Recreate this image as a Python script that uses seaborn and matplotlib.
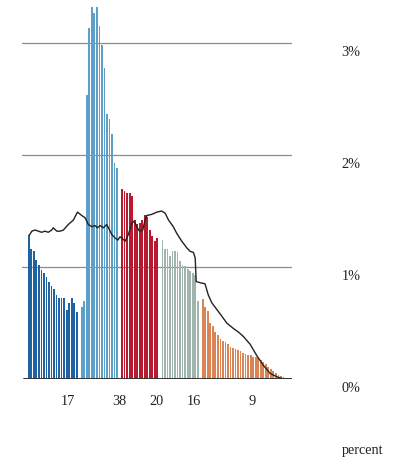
import matplotlib
matplotlib.use("Agg")
import numpy as np
import pandas as pd
import matplotlib.pyplot as plt
import matplotlib.transforms as mtransforms
import seaborn as sns

# share of population by single year of age (percent), split in age groups
group_names = ["0-19", "20-34", "35-49", "50-64", "65+"]
group_start = [0, 20, 35, 50, 65]
group_share = ["17", "38", "20", "16", "9"]
group_colors = ["#1f62a3", "#5c9fc9", "#b8192e", "#9eb4ac", "#da8455"]

pct_0_19 = [1.29, 1.16, 1.14, 1.06, 1.02, 0.97, 0.95, 0.91, 0.87, 0.83,
            0.80, 0.75, 0.72, 0.72, 0.72, 0.62, 0.68, 0.72, 0.68, 0.60]
pct_20_34 = [0.64, 0.70, 2.54, 3.13, 3.32, 3.27, 3.32, 3.15, 2.98, 2.78,
             2.37, 2.32, 2.19, 1.93, 1.88]
pct_35_49 = [1.70, 1.68, 1.66, 1.66, 1.63, 1.42, 1.38, 1.39, 1.42, 1.46,
             1.45, 1.33, 1.28, 1.23, 1.26]
pct_50_64 = [1.24, 1.16, 1.16, 1.10, 1.14, 1.14, 1.13, 1.05, 1.02, 1.01,
             0.98, 0.96, 0.95, 0.93, 0.70]
pct_65_up = [0.71, 0.64, 0.61, 0.50, 0.47, 0.42, 0.39, 0.36, 0.34, 0.33,
             0.31, 0.29, 0.28, 0.27, 0.26, 0.25, 0.23, 0.22, 0.21, 0.21,
             0.20, 0.20, 0.19, 0.17, 0.15, 0.13, 0.11, 0.09, 0.07, 0.05,
             0.04, 0.03, 0.02, 0.01, 0.01]

# whole population outline (position on the same slot axis, percent)
line_x = [0.1, 1.2, 2.5, 3.8, 5.1, 6.4, 7.7, 9.1, 9.7, 11.1, 12.4, 13.7,
          15.7, 17.7, 19.3, 21.0, 22.3, 23.6, 25.0, 26.3, 27.2, 28.3, 29.6,
          30.9, 31.6, 32.9, 34.2, 35.3, 36.2, 37.3, 38.2, 39.5, 40.8, 41.8,
          42.8, 43.9, 45.2, 46.1, 46.8, 48.8, 50.8, 52.7, 54.1, 55.4, 57.3,
          58.7, 60.7, 62.7, 64.0, 65.3, 66.0, 66.4, 67.9, 69.9, 71.2, 72.6,
          74.6, 76.6, 78.5, 81.2, 83.1, 85.1, 87.8, 90.4, 93.1, 95.7, 98.4,
          101.0, 103.0]
line_pct = [1.28, 1.32, 1.33, 1.32, 1.31, 1.32, 1.31, 1.33, 1.35, 1.32, 1.32,
            1.33, 1.38, 1.42, 1.49, 1.46, 1.44, 1.38, 1.36, 1.37, 1.35, 1.37,
            1.35, 1.38, 1.35, 1.29, 1.26, 1.24, 1.27, 1.25, 1.23, 1.29, 1.39,
            1.41, 1.36, 1.32, 1.33, 1.42, 1.46, 1.47, 1.49, 1.50, 1.48, 1.42,
            1.36, 1.30, 1.23, 1.17, 1.14, 1.13, 1.08, 0.87, 0.86, 0.85, 0.75,
            0.68, 0.62, 0.56, 0.50, 0.45, 0.42, 0.38, 0.31, 0.21, 0.12, 0.05,
            0.02, 0.0, 0.0]

all_pct = [pct_0_19, pct_20_34, pct_35_49, pct_50_64, pct_65_up]
rows = []
for g, (name, start, vals) in enumerate(zip(group_names, group_start, all_pct)):
    for i, v in enumerate(vals):
        # one empty slot between age groups
        rows.append({"pos": start + i + g, "pct": v, "group": name})
df = pd.DataFrame(rows)

sns.set_style("white")
plt.rcParams["font.family"] = ["Liberation Serif", "DejaVu Serif"]

fig = plt.figure(figsize=(4.01, 4.61), dpi=100)
ax = fig.add_axes([22 / 401, 82 / 461, 270 / 401, 379 / 461])

for v in [1, 2, 3]:
    ax.axhline(v, color="#8c8c8c", lw=0.9, zorder=0)

sns.barplot(data=df, x="pos", y="pct", hue="group", hue_order=group_names,
            palette=group_colors, native_scale=True, dodge=False, width=0.7,
            linewidth=0, saturation=1, legend=False, ax=ax, zorder=2)
sns.lineplot(x=line_x, y=line_pct, color="#222222", lw=1.0, ax=ax, zorder=3)
ax.axhline(0, xmin=2 / 270, color="#333333", lw=1.4, zorder=4)

ax.set_xlim(-2.7, 104.4)
ax.set_ylim(0, 379 / 112)
ax.set_xticks([])
ax.set_yticks([])
ax.set_xlabel("")
ax.set_ylabel("")
sns.despine(ax=ax, left=True, bottom=True)

# right hand value labels, sitting just under each grid line
off = mtransforms.ScaledTranslation(0, -9.5 / 100, fig.dpi_scale_trans)
trans = mtransforms.blended_transform_factory(ax.transAxes, ax.transData) + off
for v in [0, 1, 2, 3]:
    ax.text(1.2185, v, f"{v}%", transform=trans, ha="center", va="center",
            fontsize=10.3, color="#222222")

# group shares under the bars
label_x = [15.6, 35.8, 50.5, 65.6, 88.6]
trans_x = mtransforms.blended_transform_factory(ax.transData, ax.transAxes)
for x, s in zip(label_x, group_share):
    ax.text(x, -0.06, s, transform=trans_x, ha="center", va="center",
            fontsize=10.3, color="#222222")

fig.text(363 / 401, 1 - 450 / 461, "percent", ha="center", va="center",
         fontsize=10.3, color="#222222")

fig.savefig("out.png", dpi=100)
